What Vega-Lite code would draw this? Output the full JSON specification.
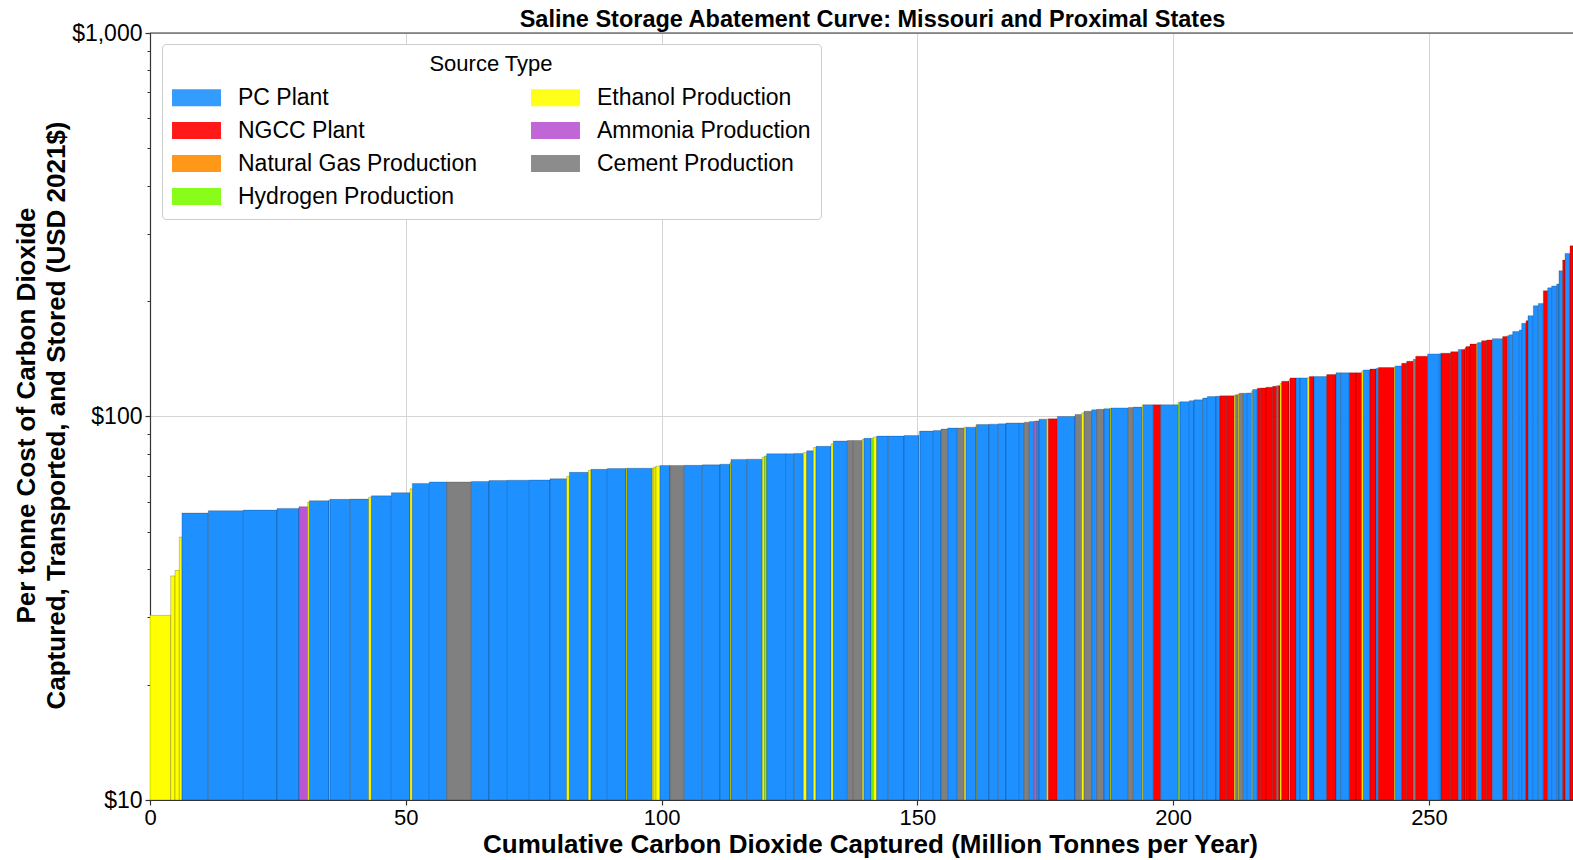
{
"$schema": "https://vega.github.io/schema/vega-lite/v6.json",
"width": 1423, "height": 767,
"autosize": {"type": "none"},
"padding": {"left": 150, "top": 33, "right": 0, "bottom": 60},
"background": "white",
"config": {"font": "Liberation Sans", "view": {"stroke": null}},
"title": {"text": "Saline Storage Abatement Curve: Missouri and Proximal States", "fontSize": 23.5, "fontWeight": "bold", "color": "#000", "anchor": "middle", "frame": "group", "dx": 11, "offset": -28, "baseline": "alphabetic", "font": "Liberation Sans"},
"resolve": {"axis": {"y": "independent"}},
"layer": [
{
"data": {"values": [
{"x0":0,"x1":4.04,"cost":30.3,"type":"Ethanol Production"},
{"x0":4.04,"x1":4.89,"cost":38.4,"type":"Ethanol Production"},
{"x0":4.89,"x1":5.73,"cost":39.7,"type":"Ethanol Production"},
{"x0":5.73,"x1":6.25,"cost":48.5,"type":"Ethanol Production"},
{"x0":6.25,"x1":11.40,"cost":56.0,"type":"PC Plant"},
{"x0":11.40,"x1":18.24,"cost":56.8,"type":"PC Plant"},
{"x0":18.24,"x1":24.82,"cost":57.0,"type":"PC Plant"},
{"x0":24.82,"x1":29.12,"cost":57.6,"type":"PC Plant"},
{"x0":29.12,"x1":30.82,"cost":58.2,"type":"Ammonia Production"},
{"x0":30.82,"x1":31.14,"cost":59.8,"type":"Ethanol Production"},
{"x0":31.14,"x1":34.99,"cost":60.3,"type":"PC Plant"},
{"x0":34.99,"x1":35.18,"cost":60.6,"type":"Ethanol Production"},
{"x0":35.18,"x1":39.16,"cost":60.8,"type":"PC Plant"},
{"x0":39.16,"x1":42.74,"cost":60.9,"type":"PC Plant"},
{"x0":42.74,"x1":43.27,"cost":61.6,"type":"Ethanol Production"},
{"x0":43.27,"x1":47.17,"cost":62.1,"type":"PC Plant"},
{"x0":47.17,"x1":50.82,"cost":63.3,"type":"PC Plant"},
{"x0":50.82,"x1":51.28,"cost":64.8,"type":"Ethanol Production"},
{"x0":51.28,"x1":54.60,"cost":66.9,"type":"PC Plant"},
{"x0":54.60,"x1":57.99,"cost":67.5,"type":"PC Plant"},
{"x0":57.99,"x1":62.81,"cost":67.5,"type":"Cement Production"},
{"x0":62.81,"x1":66.26,"cost":67.7,"type":"PC Plant"},
{"x0":66.26,"x1":69.85,"cost":68.1,"type":"PC Plant"},
{"x0":69.85,"x1":74.15,"cost":68.2,"type":"PC Plant"},
{"x0":74.15,"x1":78.19,"cost":68.3,"type":"PC Plant"},
{"x0":78.19,"x1":81.44,"cost":68.8,"type":"PC Plant"},
{"x0":81.44,"x1":81.97,"cost":69.8,"type":"Ethanol Production"},
{"x0":81.97,"x1":85.68,"cost":71.5,"type":"PC Plant"},
{"x0":85.68,"x1":86.20,"cost":72.4,"type":"Ethanol Production"},
{"x0":86.20,"x1":89.39,"cost":72.8,"type":"PC Plant"},
{"x0":89.39,"x1":93.04,"cost":73.2,"type":"PC Plant"},
{"x0":93.04,"x1":93.24,"cost":73.2,"type":"Ethanol Production"},
{"x0":93.24,"x1":98.19,"cost":73.3,"type":"PC Plant"},
{"x0":98.19,"x1":98.51,"cost":73.4,"type":"Ethanol Production"},
{"x0":98.51,"x1":98.91,"cost":73.8,"type":"Ethanol Production"},
{"x0":98.91,"x1":99.69,"cost":74.2,"type":"Ethanol Production"},
{"x0":99.69,"x1":101.64,"cost":74.5,"type":"PC Plant"},
{"x0":101.64,"x1":104.44,"cost":74.5,"type":"Cement Production"},
{"x0":104.44,"x1":107.96,"cost":74.6,"type":"PC Plant"},
{"x0":107.96,"x1":111.41,"cost":74.8,"type":"PC Plant"},
{"x0":111.41,"x1":113.37,"cost":75.1,"type":"PC Plant"},
{"x0":113.37,"x1":113.56,"cost":75.9,"type":"Ethanol Production"},
{"x0":113.56,"x1":116.63,"cost":77.3,"type":"PC Plant"},
{"x0":116.63,"x1":119.69,"cost":77.4,"type":"PC Plant"},
{"x0":119.69,"x1":120.08,"cost":78.3,"type":"Ethanol Production"},
{"x0":120.08,"x1":120.54,"cost":78.9,"type":"Hydrogen Production"},
{"x0":120.54,"x1":124.25,"cost":80.0,"type":"PC Plant"},
{"x0":124.25,"x1":125.94,"cost":80.0,"type":"PC Plant"},
{"x0":125.94,"x1":127.71,"cost":80.1,"type":"PC Plant"},
{"x0":127.71,"x1":128.36,"cost":80.5,"type":"Ethanol Production"},
{"x0":128.36,"x1":129.67,"cost":81.4,"type":"PC Plant"},
{"x0":129.67,"x1":130.18,"cost":83.0,"type":"Ethanol Production"},
{"x0":130.18,"x1":133.12,"cost":83.6,"type":"PC Plant"},
{"x0":133.12,"x1":133.57,"cost":84.9,"type":"Ethanol Production"},
{"x0":133.57,"x1":136.31,"cost":86.3,"type":"PC Plant"},
{"x0":136.31,"x1":137.48,"cost":86.6,"type":"Cement Production"},
{"x0":137.48,"x1":139.24,"cost":86.6,"type":"Cement Production"},
{"x0":139.24,"x1":139.56,"cost":87.3,"type":"Ethanol Production"},
{"x0":139.56,"x1":140.93,"cost":87.7,"type":"PC Plant"},
{"x0":140.93,"x1":141.39,"cost":87.8,"type":"Hydrogen Production"},
{"x0":141.39,"x1":142.04,"cost":88.4,"type":"Ethanol Production"},
{"x0":142.04,"x1":144.32,"cost":88.9,"type":"PC Plant"},
{"x0":144.32,"x1":147.38,"cost":88.9,"type":"PC Plant"},
{"x0":147.38,"x1":150.31,"cost":89.2,"type":"PC Plant"},
{"x0":150.31,"x1":150.51,"cost":91.4,"type":"Ethanol Production"},
{"x0":150.51,"x1":153.11,"cost":91.6,"type":"PC Plant"},
{"x0":153.11,"x1":154.61,"cost":91.9,"type":"PC Plant"},
{"x0":154.61,"x1":155.92,"cost":92.7,"type":"Cement Production"},
{"x0":155.92,"x1":157.80,"cost":93.3,"type":"PC Plant"},
{"x0":157.80,"x1":159.17,"cost":93.3,"type":"Cement Production"},
{"x0":159.17,"x1":159.50,"cost":93.8,"type":"Ethanol Production"},
{"x0":159.50,"x1":161.45,"cost":93.8,"type":"PC Plant"},
{"x0":161.45,"x1":161.58,"cost":95.1,"type":"Ethanol Production"},
{"x0":161.58,"x1":163.99,"cost":95.3,"type":"PC Plant"},
{"x0":163.99,"x1":165.82,"cost":95.5,"type":"PC Plant"},
{"x0":165.82,"x1":167.32,"cost":95.7,"type":"PC Plant"},
{"x0":167.32,"x1":169.92,"cost":96.2,"type":"PC Plant"},
{"x0":169.92,"x1":170.90,"cost":96.2,"type":"PC Plant"},
{"x0":170.90,"x1":171.88,"cost":96.6,"type":"Cement Production"},
{"x0":171.88,"x1":172.86,"cost":97.0,"type":"PC Plant"},
{"x0":172.86,"x1":173.31,"cost":97.3,"type":"Ammonia Production"},
{"x0":173.31,"x1":173.77,"cost":97.4,"type":"PC Plant"},
{"x0":173.77,"x1":175.27,"cost":98.4,"type":"PC Plant"},
{"x0":175.27,"x1":175.59,"cost":98.5,"type":"Ethanol Production"},
{"x0":175.59,"x1":177.35,"cost":98.6,"type":"NGCC Plant"},
{"x0":177.35,"x1":180.81,"cost":100.0,"type":"PC Plant"},
{"x0":180.81,"x1":182.11,"cost":101.2,"type":"Cement Production"},
{"x0":182.11,"x1":182.57,"cost":102.2,"type":"Ethanol Production"},
{"x0":182.57,"x1":184.07,"cost":103.2,"type":"Cement Production"},
{"x0":184.07,"x1":185.04,"cost":104.1,"type":"PC Plant"},
{"x0":185.04,"x1":186.47,"cost":104.4,"type":"Cement Production"},
{"x0":186.47,"x1":187.65,"cost":104.8,"type":"PC Plant"},
{"x0":187.65,"x1":187.84,"cost":105.0,"type":"Ethanol Production"},
{"x0":187.84,"x1":191.23,"cost":105.3,"type":"PC Plant"},
{"x0":191.23,"x1":192.21,"cost":105.6,"type":"Cement Production"},
{"x0":192.21,"x1":193.97,"cost":105.8,"type":"PC Plant"},
{"x0":193.97,"x1":194.17,"cost":107.3,"type":"Ethanol Production"},
{"x0":194.17,"x1":196.12,"cost":107.3,"type":"PC Plant"},
{"x0":196.12,"x1":197.55,"cost":107.3,"type":"NGCC Plant"},
{"x0":197.55,"x1":201.01,"cost":107.3,"type":"PC Plant"},
{"x0":201.01,"x1":201.33,"cost":108.9,"type":"Hydrogen Production"},
{"x0":201.33,"x1":203.16,"cost":109.3,"type":"PC Plant"},
{"x0":203.16,"x1":204.07,"cost":110.0,"type":"PC Plant"},
{"x0":204.07,"x1":205.76,"cost":110.5,"type":"PC Plant"},
{"x0":205.76,"x1":206.67,"cost":111.7,"type":"PC Plant"},
{"x0":206.67,"x1":208.37,"cost":112.7,"type":"PC Plant"},
{"x0":208.37,"x1":209.15,"cost":112.9,"type":"PC Plant"},
{"x0":209.15,"x1":210.45,"cost":113.2,"type":"NGCC Plant"},
{"x0":210.45,"x1":211.95,"cost":113.2,"type":"NGCC Plant"},
{"x0":211.95,"x1":212.21,"cost":113.6,"type":"Ethanol Production"},
{"x0":212.21,"x1":212.73,"cost":114.0,"type":"Cement Production"},
{"x0":212.73,"x1":212.93,"cost":114.5,"type":"Ethanol Production"},
{"x0":212.93,"x1":213.71,"cost":115.0,"type":"Cement Production"},
{"x0":213.71,"x1":214.49,"cost":115.0,"type":"PC Plant"},
{"x0":214.49,"x1":215.34,"cost":115.2,"type":"PC Plant"},
{"x0":215.34,"x1":215.53,"cost":116.5,"type":"Ethanol Production"},
{"x0":215.53,"x1":216.44,"cost":117.6,"type":"PC Plant"},
{"x0":216.44,"x1":217.10,"cost":118.5,"type":"NGCC Plant"},
{"x0":217.10,"x1":218.14,"cost":118.7,"type":"NGCC Plant"},
{"x0":218.14,"x1":219.44,"cost":119.2,"type":"NGCC Plant"},
{"x0":219.44,"x1":220.23,"cost":119.9,"type":"NGCC Plant"},
{"x0":220.23,"x1":220.55,"cost":120.3,"type":"Cement Production"},
{"x0":220.55,"x1":220.88,"cost":120.3,"type":"NGCC Plant"},
{"x0":220.88,"x1":221.20,"cost":122.0,"type":"Ethanol Production"},
{"x0":221.20,"x1":222.64,"cost":123.6,"type":"NGCC Plant"},
{"x0":222.64,"x1":222.83,"cost":124.8,"type":"Ethanol Production"},
{"x0":222.83,"x1":224.00,"cost":126.1,"type":"NGCC Plant"},
{"x0":224.00,"x1":224.78,"cost":126.1,"type":"PC Plant"},
{"x0":224.78,"x1":226.22,"cost":126.1,"type":"PC Plant"},
{"x0":226.22,"x1":226.61,"cost":126.2,"type":"Ethanol Production"},
{"x0":226.61,"x1":227.52,"cost":127.1,"type":"NGCC Plant"},
{"x0":227.52,"x1":230.00,"cost":127.1,"type":"PC Plant"},
{"x0":230.00,"x1":230.98,"cost":128.6,"type":"NGCC Plant"},
{"x0":230.98,"x1":231.82,"cost":128.6,"type":"NGCC Plant"},
{"x0":231.82,"x1":232.74,"cost":130.0,"type":"PC Plant"},
{"x0":232.74,"x1":234.43,"cost":130.0,"type":"PC Plant"},
{"x0":234.43,"x1":235.73,"cost":130.0,"type":"NGCC Plant"},
{"x0":235.73,"x1":236.84,"cost":130.0,"type":"NGCC Plant"},
{"x0":236.84,"x1":237.17,"cost":131.5,"type":"Ethanol Production"},
{"x0":237.17,"x1":238.47,"cost":132.3,"type":"PC Plant"},
{"x0":238.47,"x1":239.64,"cost":133.0,"type":"NGCC Plant"},
{"x0":239.64,"x1":240.10,"cost":133.5,"type":"PC Plant"},
{"x0":240.10,"x1":243.23,"cost":134.2,"type":"NGCC Plant"},
{"x0":243.23,"x1":243.43,"cost":134.8,"type":"Ethanol Production"},
{"x0":243.43,"x1":244.66,"cost":135.5,"type":"PC Plant"},
{"x0":244.66,"x1":245.64,"cost":137.6,"type":"NGCC Plant"},
{"x0":245.64,"x1":246.94,"cost":139.3,"type":"NGCC Plant"},
{"x0":246.94,"x1":247.40,"cost":141.0,"type":"Cement Production"},
{"x0":247.40,"x1":249.74,"cost":143.6,"type":"NGCC Plant"},
{"x0":249.74,"x1":252.02,"cost":145.6,"type":"PC Plant"},
{"x0":252.02,"x1":252.35,"cost":145.7,"type":"PC Plant"},
{"x0":252.35,"x1":254.24,"cost":146.2,"type":"NGCC Plant"},
{"x0":254.24,"x1":255.74,"cost":147.6,"type":"NGCC Plant"},
{"x0":255.74,"x1":256.39,"cost":149.5,"type":"PC Plant"},
{"x0":256.39,"x1":257.04,"cost":149.5,"type":"NGCC Plant"},
{"x0":257.04,"x1":257.23,"cost":151.0,"type":"Cement Production"},
{"x0":257.23,"x1":258.01,"cost":152.2,"type":"NGCC Plant"},
{"x0":258.01,"x1":259.32,"cost":154.5,"type":"NGCC Plant"},
{"x0":259.32,"x1":259.51,"cost":155.0,"type":"Ethanol Production"},
{"x0":259.51,"x1":260.29,"cost":155.9,"type":"PC Plant"},
{"x0":260.29,"x1":261.27,"cost":157.7,"type":"NGCC Plant"},
{"x0":261.27,"x1":262.38,"cost":158.3,"type":"NGCC Plant"},
{"x0":262.38,"x1":264.40,"cost":159.6,"type":"PC Plant"},
{"x0":264.40,"x1":265.31,"cost":161.6,"type":"NGCC Plant"},
{"x0":265.31,"x1":265.70,"cost":162.5,"type":"PC Plant"},
{"x0":265.70,"x1":266.36,"cost":163.3,"type":"PC Plant"},
{"x0":266.36,"x1":267.66,"cost":166.5,"type":"PC Plant"},
{"x0":267.66,"x1":268.12,"cost":168.2,"type":"PC Plant"},
{"x0":268.12,"x1":268.96,"cost":175.0,"type":"PC Plant"},
{"x0":268.96,"x1":269.35,"cost":177.8,"type":"NGCC Plant"},
{"x0":269.35,"x1":270.39,"cost":183.2,"type":"PC Plant"},
{"x0":270.39,"x1":271.37,"cost":194.5,"type":"PC Plant"},
{"x0":271.37,"x1":272.35,"cost":197.2,"type":"PC Plant"},
{"x0":272.35,"x1":273.20,"cost":212.9,"type":"NGCC Plant"},
{"x0":273.20,"x1":273.98,"cost":216.5,"type":"PC Plant"},
{"x0":273.98,"x1":274.96,"cost":219.0,"type":"PC Plant"},
{"x0":274.96,"x1":275.41,"cost":221.6,"type":"PC Plant"},
{"x0":275.41,"x1":276.13,"cost":239.9,"type":"PC Plant"},
{"x0":276.13,"x1":276.59,"cost":255.9,"type":"NGCC Plant"},
{"x0":276.59,"x1":277.56,"cost":266.2,"type":"PC Plant"},
{"x0":277.56,"x1":278.15,"cost":278.6,"type":"NGCC Plant"}
]},
"mark": {"type": "rect", "clip": true, "stroke": "#000", "strokeWidth": 0.6, "strokeOpacity": 0.35},
"encoding": {
"x": {"field": "x0", "type": "quantitative",
"scale": {"domain": [0, 278.15], "nice": false, "zero": false},
"axis": {"values": [0, 50, 100, 150, 200, 250], "grid": true, "gridColor": "#d4d4d4", "gridWidth": 1,
"domainColor": "#333", "domainWidth": 1.2, "tickColor": "#333", "tickSize": 5, "tickWidth": 1.2,
"labelFontSize": 22, "labelColor": "#000", "labelPadding": 2, "labelFlush": false, "labelOverlap": false,
"title": "Cumulative Carbon Dioxide Captured (Million Tonnes per Year)", "titleFontSize": 26, "titleFontWeight": "bold", "titleColor": "#000",
"titleX": 720, "titleY": 52, "titleBaseline": "alphabetic", "titleAlign": "center"}},
"x2": {"field": "x1"},
"y": {"field": "cost", "type": "quantitative",
"scale": {"type": "log", "domain": [10, 1000], "nice": false},
"axis": {"orient": "left", "values": [10, 100, 1000], "labelExpr": "'$' + format(datum.value, ',')", "grid": true, "gridColor": "#d4d4d4", "gridWidth": 1,
"domainColor": "#333", "domainWidth": 1.2, "tickColor": "#333", "tickSize": 5, "tickWidth": 1.2,
"labelFontSize": 23, "labelColor": "#000", "labelPadding": 3, "labelFlush": false, "labelOverlap": false,
"title": ["Per tonne Cost of Carbon Dioxide", "Captured, Transported, and Stored (USD 2021$)"],
"titleFontSize": 26, "titleFontWeight": "bold", "titleColor": "#000", "titleX": -116, "titleY": 382,
"titleBaseline": "alphabetic", "titleAlign": "center", "titleAngle": -90, "titleLineHeight": 30}},
"y2": {"datum": 10},
"color": {"field": "type", "type": "nominal",
"scale": {"domain": ["PC Plant", "NGCC Plant", "Natural Gas Production", "Hydrogen Production", "Ethanol Production", "Ammonia Production", "Cement Production"],
"range": ["#1E90FF", "#FF0000", "#FF8C00", "#7CFC00", "#FFFF00", "#BA55D3", "#808080"]},
"legend": {"orient": "none", "legendX": 12, "legendY": 11, "columns": 2, "direction": "vertical",
"title": "Source Type", "titleFontSize": 22, "titleFontWeight": "normal", "titleAnchor": "middle", "titleColor": "#000", "titlePadding": 10,
"labelFontSize": 23, "labelColor": "#000", "labelOffset": 30, "labelLimit": 400, "symbolOffset": 13,
"symbolType": "M-2.88,-1H2.88V1H-2.88Z", "symbolSize": 289, "symbolStrokeWidth": 0, "symbolOpacity": 0.9,
"rowPadding": 9, "columnPadding": 53, "padding": 10, "fillColor": "white", "strokeColor": "#cccccc", "cornerRadius": 4, "gridAlign": "each", "symbolLimit": 0}}
}
},
{
"data": {"values": [{"edge": "top"}]},
"mark": {"type": "rule", "color": "#333", "strokeWidth": 1.2},
"encoding": {
"y": {"datum": 1000, "type": "quantitative",
"axis": {"orient": "left", "values": [20, 30, 40, 50, 60, 70, 80, 90, 200, 300, 400, 500, 600, 700, 800, 900],
"labels": false, "title": null, "grid": false, "domain": false, "tickSize": 3, "tickColor": "#333", "tickWidth": 1}}
}
}
]
}
